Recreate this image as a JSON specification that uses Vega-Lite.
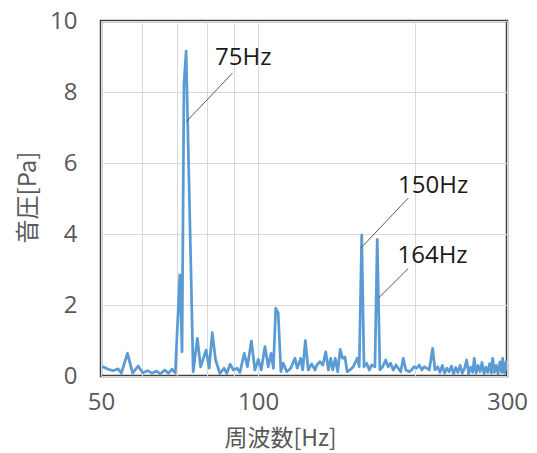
{
  "$schema": "https://vega.github.io/schema/vega-lite/v6.json",
  "width": 406,
  "height": 355,
  "autosize": {"type": "none"},
  "padding": {"left": 101, "top": 21, "right": 30, "bottom": 77},
  "background": "white",
  "config": {
    "view": {"stroke": "#404040", "strokeWidth": 2.5},
    "font": "Open Sans"
  },
  "layer": [
    {
      "data": {"values": [
        {"f":50.3,"p":0.27},{"f":51.6,"p":0.19},{"f":52.7,"p":0.15},{"f":53.9,"p":0.2},{"f":54.7,"p":0.08},
        {"f":56.2,"p":0.64},{"f":57.5,"p":0.08},{"f":58.9,"p":0.28},{"f":60.1,"p":0.09},{"f":61.4,"p":0.15},
        {"f":62.6,"p":0.08},{"f":63.9,"p":0.14},{"f":65.0,"p":0.06},{"f":66.2,"p":0.17},{"f":67.3,"p":0.08},
        {"f":68.4,"p":0.19},{"f":69.4,"p":0.09},{"f":70.8,"p":2.85},{"f":71.5,"p":0.68},{"f":72.1,"p":8.2},
        {"f":72.8,"p":9.15},{"f":74.0,"p":4.4},{"f":75.1,"p":0.12},{"f":76.5,"p":1.06},{"f":77.6,"p":0.26},
        {"f":79.5,"p":0.73},{"f":80.6,"p":0.22},{"f":81.7,"p":1.22},{"f":82.9,"p":0.45},{"f":84.5,"p":0.07},
        {"f":86.1,"p":0.22},{"f":87.1,"p":0.07},{"f":88.4,"p":0.33},{"f":89.7,"p":0.17},{"f":91.2,"p":0.22},
        {"f":92.3,"p":0.1},{"f":94.1,"p":0.64},{"f":95.4,"p":0.26},{"f":97.1,"p":0.99},{"f":98.6,"p":0.17},
        {"f":100.1,"p":0.47},{"f":101.4,"p":0.17},{"f":103.1,"p":0.83},{"f":104.6,"p":0.26},{"f":105.9,"p":0.64},
        {"f":107.0,"p":0.22},{"f":108.1,"p":1.91},{"f":109.3,"p":1.77},{"f":110.6,"p":0.12},{"f":111.8,"p":0.36},
        {"f":113.5,"p":0.12},{"f":115.5,"p":0.22},{"f":117.7,"p":0.5},{"f":118.9,"p":0.22},{"f":120.7,"p":0.5},
        {"f":121.8,"p":0.17},{"f":123.2,"p":1.0},{"f":124.8,"p":0.17},{"f":126.7,"p":0.34},{"f":128.6,"p":0.17},
        {"f":129.6,"p":0.31},{"f":131.4,"p":0.4},{"f":133.1,"p":0.31},{"f":134.8,"p":0.68},{"f":136.4,"p":0.17},
        {"f":137.8,"p":0.5},{"f":139.0,"p":0.17},{"f":140.6,"p":0.5},{"f":142.1,"p":0.12},{"f":143.7,"p":0.75},
        {"f":145.2,"p":0.5},{"f":146.7,"p":0.54},{"f":148.2,"p":0.12},{"f":150.0,"p":0.17},{"f":152.2,"p":0.26},
        {"f":154.9,"p":0.5},{"f":156.3,"p":0.26},{"f":158.0,"p":3.97},{"f":159.6,"p":0.26},{"f":161.5,"p":0.36},
        {"f":163.4,"p":0.17},{"f":165.1,"p":0.31},{"f":167.5,"p":0.26},{"f":169.2,"p":3.85},{"f":171.2,"p":0.17},
        {"f":173.3,"p":0.26},{"f":175.6,"p":0.45},{"f":177.6,"p":0.26},{"f":179.5,"p":0.36},{"f":181.6,"p":0.17},
        {"f":183.8,"p":0.31},{"f":185.7,"p":0.22},{"f":187.7,"p":0.12},{"f":189.8,"p":0.5},{"f":192.0,"p":0.17},
        {"f":194.9,"p":0.12},{"f":197.0,"p":0.17},{"f":199.0,"p":0.26},{"f":201.4,"p":0.22},{"f":203.7,"p":0.31},
        {"f":205.9,"p":0.17},{"f":208.2,"p":0.26},{"f":210.5,"p":0.22},{"f":212.9,"p":0.17},{"f":216.1,"p":0.78},
        {"f":218.3,"p":0.17},{"f":220.9,"p":0.26},{"f":223.2,"p":0.1},{"f":225.5,"p":0.3},{"f":227.8,"p":0.08},
        {"f":230.1,"p":0.22},{"f":232.4,"p":0.12},{"f":234.7,"p":0.28},{"f":237.0,"p":0.06},{"f":239.3,"p":0.24},
        {"f":241.6,"p":0.1},{"f":243.9,"p":0.3},{"f":246.2,"p":0.08},{"f":248.5,"p":0.2},{"f":251.1,"p":0.45},
        {"f":253.3,"p":0.06},{"f":255.6,"p":0.25},{"f":257.9,"p":0.1},{"f":259.6,"p":0.5},{"f":261.8,"p":0.08},
        {"f":264.1,"p":0.3},{"f":266.4,"p":0.12},{"f":268.7,"p":0.38},{"f":271.0,"p":0.06},{"f":273.3,"p":0.25},
        {"f":275.6,"p":0.1},{"f":277.9,"p":0.35},{"f":280.0,"p":0.08},{"f":281.6,"p":0.5},{"f":283.8,"p":0.1},
        {"f":286.1,"p":0.3},{"f":288.4,"p":0.06},{"f":290.7,"p":0.4},{"f":293.0,"p":0.1},{"f":294.3,"p":0.5},
        {"f":296.6,"p":0.08},{"f":298.9,"p":0.4},{"f":300.0,"p":0.15}
      ]},
      "mark": {"type": "line", "color": "#5B9BD5", "strokeWidth": 2.75, "strokeJoin": "round", "clip": true},
      "encoding": {
        "x": {
          "field": "f", "type": "quantitative",
          "scale": {"type": "log", "domain": [50, 300], "nice": false},
          "axis": {
            "values": [50, 60, 70, 80, 90, 100, 200, 300],
            "format": "d",
            "labelExpr": "(datum.value == 50 || datum.value == 100 || datum.value == 300) ? datum.label : ''",
            "ticks": false, "domain": false,
            "grid": true, "gridColor": "#d9d9d9", "gridWidth": 1,
            "labelFontSize": 24, "labelColor": "#595959", "labelPadding": 14,
            "labelFlush": false, "labelOverlap": false,
            "title": "周波数[Hz]", "titleFont": "Noto Sans CJK JP", "titleFontSize": 23,
            "titleColor": "#595959", "titleFontWeight": "normal",
            "titleX": 179, "titleY": 62, "titleBaseline": "middle"
          }
        },
        "y": {
          "field": "p", "type": "quantitative",
          "scale": {"domain": [0, 10], "nice": false},
          "axis": {
            "values": [0, 2, 4, 6, 8, 10],
            "ticks": false, "domain": false,
            "grid": true, "gridColor": "#d9d9d9", "gridWidth": 1,
            "labelFontSize": 24, "labelColor": "#595959", "labelPadding": 24,
            "title": "音圧[Pa]", "titleFont": "Noto Sans CJK JP", "titleFontSize": 24,
            "titleColor": "#595959", "titleFontWeight": "normal",
            "titleX": -73, "titleY": 176, "titleBaseline": "middle"
          }
        }
      }
    },
    {
      "data": {"values": [
        {"xa": 89.3, "ya": 8.53, "xb": 72.8, "yb": 7.16},
        {"xa": 194.0, "ya": 5.01, "xb": 157.3, "yb": 3.6},
        {"xa": 194.0, "ya": 3.03, "xb": 170.0, "yb": 2.19}
      ]},
      "mark": {"type": "rule", "color": "#595959", "strokeWidth": 1},
      "encoding": {
        "x": {"field": "xa", "type": "quantitative"},
        "y": {"field": "ya", "type": "quantitative"},
        "x2": {"field": "xb"},
        "y2": {"field": "yb"}
      }
    },
    {
      "data": {"values": [
        {"f": 82.7, "p": 8.97, "t": "75Hz"},
        {"f": 185.5, "p": 5.34, "t": "150Hz"},
        {"f": 185.0, "p": 3.37, "t": "164Hz"}
      ]},
      "mark": {"type": "text", "align": "left", "baseline": "middle", "fontSize": 24, "color": "#1a1a1a", "font": "Open Sans"},
      "encoding": {
        "x": {"field": "f", "type": "quantitative"},
        "y": {"field": "p", "type": "quantitative"},
        "text": {"field": "t"}
      }
    }
  ]
}
